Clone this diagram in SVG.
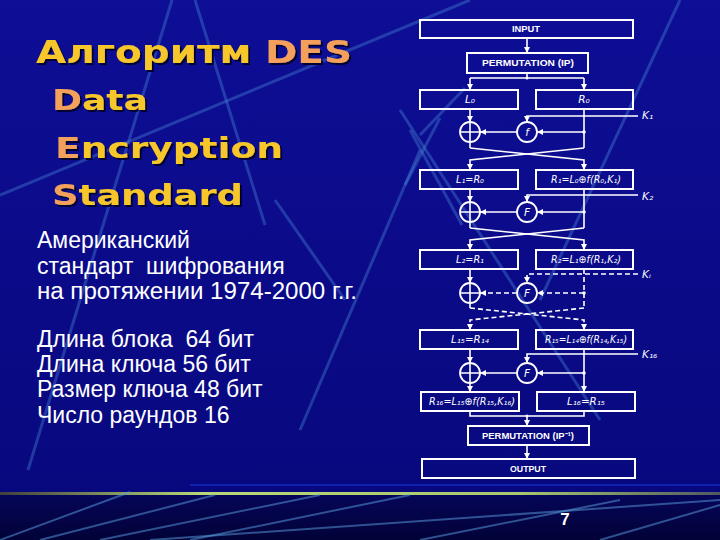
<svg xmlns="http://www.w3.org/2000/svg" width="720" height="540" viewBox="0 0 720 540">
<defs>
<linearGradient id="bg" x1="0" y1="0" x2="0" y2="1">
<stop offset="0" stop-color="#0e0e96"/>
<stop offset="1" stop-color="#08087e"/>
</linearGradient>
<linearGradient id="band" x1="0" y1="0" x2="0" y2="1">
<stop offset="0" stop-color="#050558"/>
<stop offset="1" stop-color="#020238"/>
</linearGradient>
<linearGradient id="rule" x1="0" y1="0" x2="1" y2="0">
<stop offset="0" stop-color="#404040"/>
<stop offset="0.28" stop-color="#b8d878"/>
<stop offset="0.72" stop-color="#a8c870"/>
<stop offset="1" stop-color="#505860"/>
</linearGradient>
<filter id="sh" x="-5%" y="-20%" width="110%" height="140%">
<feDropShadow dx="2" dy="2" stdDeviation="0.6" flood-color="#000030" flood-opacity="1"/>
</filter>
<marker id="arr" markerWidth="6" markerHeight="6" refX="6" refY="3" orient="auto" markerUnits="userSpaceOnUse">
<path d="M0,0 L6,3 L0,6 z" fill="#ffffff"/>
</marker>
<style>
.deco{stroke:#4a8cd8;stroke-opacity:0.38;stroke-width:3;fill:none}
.deco2{stroke:#5aa0e0;stroke-opacity:0.5;stroke-width:2;fill:none}
.title{font-family:"DejaVu Sans","Liberation Sans",sans-serif;font-weight:bold;fill:#f6c62a;filter:url(#sh)}
.or{fill:#f2a05c}
.body{font-family:"Liberation Sans",Arial,sans-serif;font-size:23px;fill:#ffffff}
.box{fill:none;stroke:#ffffff;stroke-width:2}
.lbl{font-family:"Liberation Sans",Arial,sans-serif;font-weight:bold;font-size:9px;fill:#ffffff;text-anchor:middle}
.var{font-family:"DejaVu Sans",sans-serif;font-style:italic;font-size:10.5px;fill:#ffffff;text-anchor:middle}
.key{font-family:"DejaVu Sans",sans-serif;font-style:italic;font-size:10.5px;fill:#ffffff}
.ln{fill:none;stroke:#ffffff;stroke-width:1.6}
.dash{stroke-dasharray:5,3}
.arr{marker-end:url(#arr)}
.circ{fill:none;stroke:#ffffff;stroke-width:1.8}
</style>
</defs>

<!-- background -->
<rect x="0" y="0" width="720" height="495" fill="url(#bg)"/>
<rect x="0" y="495" width="720" height="45" fill="url(#band)"/>
<line x1="190" y1="485" x2="720" y2="485" stroke="#1020b0" stroke-width="2"/>
<rect x="0" y="492" width="720" height="3" fill="url(#rule)"/>

<!-- decorative lines -->
<g id="decoration">
<line class="deco" x1="0" y1="195" x2="470" y2="0"/>
<line class="deco" x1="172" y1="0" x2="28" y2="470"/>
<line class="deco" x1="195" y1="0" x2="265" y2="225"/>
<line class="deco" x1="275" y1="200" x2="345" y2="300"/>
<line class="deco" x1="420" y1="150" x2="300" y2="430"/>
<line class="deco" x1="680" y1="0" x2="540" y2="300"/>
<line class="deco" x1="400" y1="110" x2="600" y2="420"/>
<line class="deco" x1="440" y1="118" x2="405" y2="185"/>
<line class="deco" x1="410" y1="130" x2="462" y2="225"/>
<line class="deco" x1="465" y1="88" x2="420" y2="135"/>
<line class="deco2" x1="0" y1="540" x2="130" y2="492"/>
<line class="deco2" x1="40" y1="540" x2="215" y2="495"/>
<line class="deco2" x1="100" y1="540" x2="320" y2="495"/>
<line class="deco2" x1="190" y1="540" x2="410" y2="495"/>
<line class="deco2" x1="150" y1="540" x2="720" y2="500"/>
<line class="deco2" x1="420" y1="540" x2="620" y2="500"/>
<line class="deco2" x1="600" y1="540" x2="720" y2="505"/>
</g>

<!-- title -->
<g id="title">
<text class="title" x="36" y="63" font-size="32" textLength="316" lengthAdjust="spacingAndGlyphs">Алгоритм <tspan class="or">DES</tspan></text>
<text class="title" x="52" y="110" font-size="29" textLength="96" lengthAdjust="spacingAndGlyphs"><tspan class="or">D</tspan>ata</text>
<text class="title" x="55" y="158" font-size="29" textLength="228" lengthAdjust="spacingAndGlyphs"><tspan class="or">E</tspan>ncryption</text>
<text class="title" x="52" y="205" font-size="29" textLength="191" lengthAdjust="spacingAndGlyphs"><tspan class="or">S</tspan>tandard</text>
</g>

<!-- body text -->
<g id="body">
<text class="body" x="37" y="248">Американский</text>
<text class="body" x="37" y="274" xml:space="preserve">стандарт  шифрования</text>
<text class="body" x="37" y="299" textLength="320" lengthAdjust="spacingAndGlyphs">на протяжении 1974-2000 г.г.</text>
<text class="body" x="37" y="347" xml:space="preserve">Длина блока  64 бит</text>
<text class="body" x="37" y="372">Длина ключа 56 бит</text>
<text class="body" x="37" y="397">Размер ключа 48 бит</text>
<text class="body" x="37" y="423">Число раундов 16</text>
</g>

<!-- connectors -->
<g id="connectors">
<path class="ln arr" d="M527,38 V53"/>
<path class="ln" d="M527,73 V78 M470,78 H584"/>
<path class="ln arr" d="M470,78 V90"/>
<path class="ln arr" d="M584,78 V90"/>
<!-- round 1 -->
<path class="ln arr" d="M470,109 V122"/>
<path class="ln" d="M584,109 V148"/>
<path class="ln arr" d="M638,116 H527 V122"/>
<path class="ln arr" d="M584,132 H537"/>
<path class="ln arr" d="M517,132 H480"/>
<path class="ln" d="M470,142 V148"/>
<path class="ln arr" d="M470,148 L584,160 V170"/>
<path class="ln arr" d="M584,148 L470,160 V170"/>
<!-- round 2 -->
<path class="ln arr" d="M470,189 V202"/>
<path class="ln" d="M584,189 V228"/>
<path class="ln arr" d="M638,195 H527 V202"/>
<path class="ln arr" d="M584,212 H537"/>
<path class="ln arr" d="M517,212 H480"/>
<path class="ln" d="M470,222 V228"/>
<path class="ln arr" d="M470,228 L584,240 V250"/>
<path class="ln arr" d="M584,228 L470,240 V250"/>
<!-- round i (dashed) -->
<path class="ln arr" d="M470,269 V283"/>
<path class="ln dash" d="M584,269 V308"/>
<path class="ln dash arr" d="M638,274 H527 V283"/>
<path class="ln dash arr" d="M584,293 H537"/>
<path class="ln dash arr" d="M517,293 H480"/>
<path class="ln" d="M470,303 V308"/>
<path class="ln dash arr" d="M470,308 L584,320 V330"/>
<path class="ln dash arr" d="M584,308 L470,320 V330"/>
<!-- round 16 -->
<path class="ln arr" d="M470,349 V363"/>
<path class="ln arr" d="M584,349 V392"/>
<path class="ln arr" d="M638,354 H527 V363"/>
<path class="ln arr" d="M584,373 H537"/>
<path class="ln arr" d="M517,373 H480"/>
<path class="ln arr" d="M470,383 V392"/>
<!-- final -->
<path class="ln" d="M470,411 V416 H584 V411"/>
<path class="ln arr" d="M527,416 V426"/>
<path class="ln arr" d="M527,445 V459"/>
<g fill="#ffffff">
<circle cx="584" cy="132" r="1.8"/>
<circle cx="584" cy="212" r="1.8"/>
<circle cx="584" cy="293" r="1.8"/>
<circle cx="584" cy="373" r="1.8"/>
<circle cx="527" cy="78" r="1.5"/>
<circle cx="527" cy="416" r="1.5"/>
</g>
</g>

<!-- nodes -->
<g id="input"><rect class="box" x="420" y="20" width="213" height="18"/><text class="lbl" x="526" y="32" textLength="28" lengthAdjust="spacingAndGlyphs">INPUT</text></g>
<g id="ip"><rect class="box" x="467" y="53" width="121" height="20"/><text class="lbl" x="528" y="66" textLength="92" lengthAdjust="spacingAndGlyphs">PERMUTATION (IP)</text></g>
<g id="l0"><rect class="box" x="420" y="90" width="98" height="19"/><text class="var" x="470" y="103">L₀</text></g>
<g id="r0"><rect class="box" x="536" y="90" width="97" height="19"/><text class="var" x="584" y="103">R₀</text></g>
<g id="k1"><text class="key" x="642" y="119">K₁</text></g>
<g id="xor1"><circle class="circ" cx="470" cy="132" r="10"/><path class="ln" d="M460,132 H480 M470,122 V142"/></g>
<g id="f1"><circle class="circ" cx="527" cy="132" r="10"/><text class="var" x="527" y="136">f</text></g>
<g id="l1"><rect class="box" x="420" y="170" width="98" height="19"/><text class="var" x="470" y="183" textLength="28" lengthAdjust="spacingAndGlyphs">L₁=R₀</text></g>
<g id="r1"><rect class="box" x="536" y="170" width="97" height="19"/><text class="var" x="586" y="183" textLength="70" lengthAdjust="spacingAndGlyphs">R₁=L₀⊕f(R₀,K₁)</text></g>
<g id="k2"><text class="key" x="642" y="200">K₂</text></g>
<g id="xor2"><circle class="circ" cx="470" cy="212" r="10"/><path class="ln" d="M460,212 H480 M470,202 V222"/></g>
<g id="f2"><circle class="circ" cx="527" cy="212" r="10"/><text class="var" x="527" y="216">F</text></g>
<g id="l2"><rect class="box" x="420" y="250" width="98" height="19"/><text class="var" x="470" y="263" textLength="28" lengthAdjust="spacingAndGlyphs">L₂=R₁</text></g>
<g id="r2"><rect class="box" x="536" y="250" width="97" height="19"/><text class="var" x="586" y="263" textLength="70" lengthAdjust="spacingAndGlyphs">R₂=L₁⊕f(R₁,K₂)</text></g>
<g id="ki"><text class="key" x="642" y="278">Kᵢ</text></g>
<g id="xori"><circle class="circ" cx="470" cy="293" r="10"/><path class="ln" d="M460,293 H480 M470,283 V303"/></g>
<g id="fi"><circle class="circ" cx="527" cy="293" r="10"/><text class="var" x="527" y="297">F</text></g>
<g id="l15"><rect class="box" x="420" y="330" width="98" height="19"/><text class="var" x="470" y="343" textLength="38" lengthAdjust="spacingAndGlyphs">L₁₅=R₁₄</text></g>
<g id="r15"><rect class="box" x="536" y="330" width="97" height="19"/><text class="var" x="586" y="343" textLength="82" lengthAdjust="spacingAndGlyphs">R₁₅=L₁₄⊕f(R₁₄,K₁₅)</text></g>
<g id="k16"><text class="key" x="642" y="358">K₁₆</text></g>
<g id="xor16"><circle class="circ" cx="470" cy="373" r="10"/><path class="ln" d="M460,373 H480 M470,363 V383"/></g>
<g id="f16"><circle class="circ" cx="527" cy="373" r="10"/><text class="var" x="527" y="377">F</text></g>
<g id="r16"><rect class="box" x="421" y="392" width="98" height="19"/><text class="var" x="472" y="405" textLength="86" lengthAdjust="spacingAndGlyphs">R₁₆=L₁₅⊕f(R₁₅,K₁₆)</text></g>
<g id="l16"><rect class="box" x="537" y="392" width="98" height="19"/><text class="var" x="586" y="405" textLength="38" lengthAdjust="spacingAndGlyphs">L₁₆=R₁₅</text></g>
<g id="ipinv"><rect class="box" x="468" y="426" width="121" height="19"/><text class="lbl" x="528" y="439" textLength="92" lengthAdjust="spacingAndGlyphs">PERMUTATION (IP⁻¹)</text></g>
<g id="output"><rect class="box" x="422" y="459" width="213" height="19"/><text class="lbl" x="528" y="472" textLength="36" lengthAdjust="spacingAndGlyphs">OUTPUT</text></g>

<!-- page number -->
<text x="565" y="525" font-family="Liberation Sans, Arial, sans-serif" font-size="17" font-weight="bold" fill="#ffffff" text-anchor="middle">7</text>
</svg>
